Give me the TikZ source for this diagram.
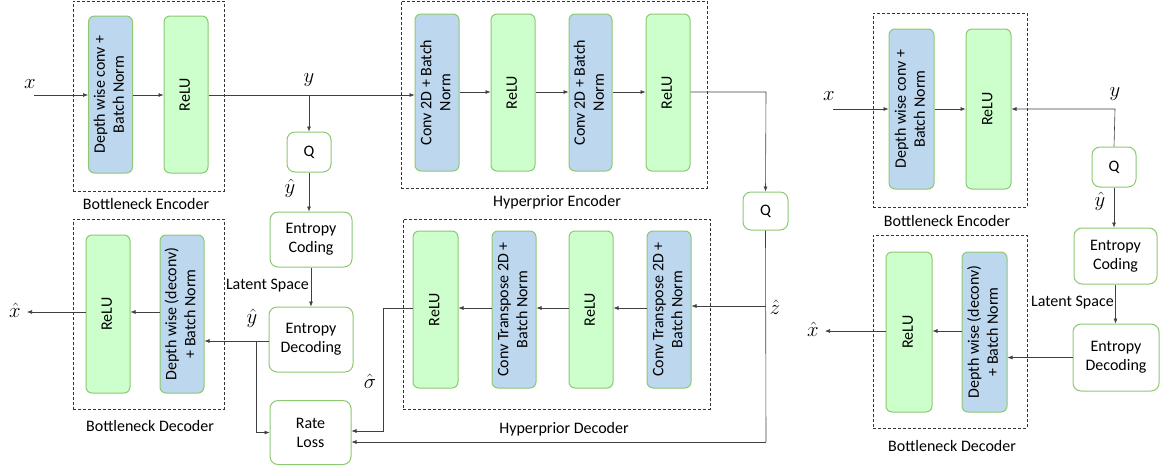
\documentclass[tikz,border=0pt]{standalone}
\usepackage{fontspec}
\setmainfont{Carlito}
\usepackage{graphicx}
\usetikzlibrary{arrows.meta}
\definecolor{bluef}{HTML}{BDD7EE}
\definecolor{greenf}{HTML}{CCFFCC}
\definecolor{gborder}{HTML}{8CC870}
\definecolor{lncol}{HTML}{404040}
\newcommand{\rtxt}[1]{\rotatebox{90}{\begin{tabular}{@{}c@{}}#1\end{tabular}}}
\tikzset{
  lay/.style={draw=gborder, line width=1pt, rounded corners=6pt, inner sep=0pt,
     font=\fontsize{16}{19}\selectfont, align=center},
  bluebox/.style={lay, fill=bluef, minimum width=44pt, minimum height=157pt},
  greenbox/.style={lay, fill=greenf, minimum width=44pt, minimum height=157pt},
  wbox/.style={lay, fill=white, rounded corners=8pt},
  dbox/.style={draw=black!80, densely dashed, line width=0.7pt, inner sep=0pt},
  lbl/.style={font=\fontsize{16}{19}\selectfont, inner sep=0pt},
  mlbl/.style={font=\fontsize{20}{22}\selectfont, inner sep=0pt},
  ln/.style={draw=lncol, line width=0.6pt},
  arr/.style={ln, -{Latex[length=5pt,width=4pt]}},
}
\begin{document}
\begin{tikzpicture}[x=1pt,y=-1pt]
\useasboundingbox (0,0) rectangle (1170,467);

% ---------- Left bottleneck encoder ----------
\node[dbox, minimum width=151pt, minimum height=190pt] (BE) at (148.5,96) {};
\node[bluebox] (be1) at (110.5,94.5) {\rtxt{Depth wise conv +\\Batch Norm}};
\node[greenbox] (be2) at (186,94.5) {\rtxt{ReLU}};
\node[lbl] (BElab) at (146,204) {Bottleneck Encoder};
\node[mlbl] (xl) at (30,84) {$x$};
\coordinate (xin) at (34,95);
\node[mlbl] (yl) at (309,80) {$y$};
\coordinate (ysplit) at (309,95);

% ---------- Q, entropy (left) ----------
\node[wbox, minimum width=44pt, minimum height=40pt] (Q1) at (309,152) {Q};
\node[mlbl] (yh1) at (290,188) {$\hat{y}$};
\node[wbox, minimum width=82pt, minimum height=55pt] (EC1) at (311,239.5) {Entropy\\Coding};
\node[lbl, anchor=east] (LS1) at (309,286) {Latent Space};
\node[wbox, minimum width=84pt, minimum height=65pt] (ED1) at (311,339.5) {Entropy\\Decoding};
\node[wbox, minimum width=81pt, minimum height=64pt] (RL) at (310.5,432.5) {Rate\\Loss};
\node[mlbl] (yh2) at (252,318) {$\hat{y}$};
\coordinate (ysp2) at (256,341);

% ---------- Left bottleneck decoder ----------
\node[dbox, minimum width=151pt, minimum height=190pt] (BD) at (148.5,314) {};
\node[greenbox, minimum height=158pt] (bd1) at (108,314) {\rtxt{ReLU}};
\node[bluebox, minimum height=158pt] (bd2) at (182,314) {\rtxt{Depth wise (deconv)\\+ Batch Norm}};
\node[lbl] (BDlab) at (150,426) {Bottleneck Decoder};
\coordinate (xout) at (27,312);
\node[mlbl] (xh1) at (15,310) {$\hat{x}$};

% ---------- Hyperprior encoder ----------
\node[dbox, minimum width=306pt, minimum height=187pt] (HE) at (554,94.5) {};
\node[bluebox] (he1) at (437,92.5) {\rtxt{Conv 2D + Batch\\Norm}};
\node[greenbox] (he2) at (513,92.5) {\rtxt{ReLU}};
\node[bluebox, minimum width=43pt] (he3) at (590.5,92.5) {\rtxt{Conv 2D + Batch\\Norm}};
\node[greenbox] (he4) at (668,92.5) {\rtxt{ReLU}};
\node[lbl] (HElab) at (557,202) {Hyperprior Encoder};
\coordinate (hc) at (766,92);
\node[wbox, minimum width=45pt, minimum height=38pt] (Q2) at (765.5,211) {Q};

% ---------- Hyperprior decoder ----------
\node[dbox, minimum width=307pt, minimum height=190pt] (HD) at (556.5,314) {};
\node[greenbox, minimum width=45pt] (hd1) at (435.5,309.5) {\rtxt{ReLU}};
\node[bluebox] (hd2) at (514,309.5) {\rtxt{Conv Transpose 2D +\\Batch Norm}};
\node[greenbox] (hd3) at (591,309.5) {\rtxt{ReLU}};
\node[bluebox] (hd4) at (669,309.5) {\rtxt{Conv Transpose 2D +\\Batch Norm}};
\node[lbl] (HDlab) at (564,429) {Hyperprior Decoder};
\coordinate (zsp) at (766,306);
\node[mlbl] (zl) at (775,307) {$\hat{z}$};
\coordinate (zc) at (766,442);
\coordinate (sc1) at (383,308);
\coordinate (sc2) at (383,431);
\node[mlbl] (sl) at (370,381) {$\hat{\sigma}$};

% ---------- Right bottleneck encoder ----------
\node[dbox, minimum width=154pt, minimum height=194pt] (RBE) at (950,110) {};
\node[bluebox, minimum width=45pt, minimum height=160pt] (rbe1) at (911.5,109) {\rtxt{Depth wise conv +\\Batch Norm}};
\node[greenbox, minimum width=45pt, minimum height=160pt] (rbe2) at (988.5,109) {\rtxt{ReLU}};
\node[lbl] (RBElab) at (947,221) {Bottleneck Encoder};
\node[mlbl] (rxl) at (829,96) {$x$};
\coordinate (rxin) at (833,109);
\node[mlbl] (ryl) at (1115,94) {$y$};
\coordinate (ryc) at (1115,109);
\node[wbox, minimum width=44pt, minimum height=40pt] (Q3) at (1114,167) {Q};
\node[mlbl] (ryh) at (1100,201) {$\hat{y}$};
\node[wbox, minimum width=83pt, minimum height=56pt] (REC) at (1115.5,256) {Entropy\\Coding};
\node[lbl, anchor=east] (LS2) at (1114,303) {Latent Space};
\node[wbox, minimum width=86pt, minimum height=67pt] (RED) at (1116,357.5) {Entropy\\Decoding};

% ---------- Right bottleneck decoder ----------
\node[dbox, minimum width=154pt, minimum height=193pt] (RBD) at (950,331.5) {};
\node[greenbox, minimum width=46pt, minimum height=160pt] (rbd1) at (909,332) {\rtxt{ReLU}};
\node[bluebox, minimum width=45pt, minimum height=160pt] (rbd2) at (984.5,332) {\rtxt{Depth wise (deconv)\\+ Batch Norm}};
\node[lbl] (RBDlab) at (952,446) {Bottleneck Decoder};
\coordinate (rxout) at (825,331);
\node[mlbl] (rxh) at (813,329) {$\hat{x}$};

% ---------- connectors left ----------
\draw[arr] (xin) -- (be1.west |- xin);
\draw[arr] (be1.east |- xin) -- (be2.west |- xin);
\draw[arr] (be2.east |- xin) -- (he1.west |- xin);
\draw[arr] (ysplit) -- (Q1.north);
\draw[arr] (Q1.south) -- (Q1.south |- EC1.north);
\draw[arr] (EC1.south) -- (ED1.north);
\draw[arr] (ED1.west |- ysp2) -- (bd2.east |- ysp2);
\draw[arr] (ysp2) |- (RL.west);
\draw[arr] (bd2.west |- xout) -- (bd1.east |- xout);
\draw[arr] (bd1.west |- xout) -- (xout);

% hyperprior encoder
\draw[arr] (he1.east |- hc) -- (he2.west |- hc);
\draw[arr] (he2.east |- hc) -- (he3.west |- hc);
\draw[arr] (he3.east |- hc) -- (he4.west |- hc);
\draw[arr] (he4.east |- hc) -- (hc) -- (Q2.north);

% hyperprior decoder
\draw[ln] (Q2.south) -- (zc);
\draw[arr] (zc) -- (RL.east |- zc);
\draw[arr] (zsp) -- (hd4.east |- zsp);
\draw[arr] (hd4.west |- sc1) -- (hd3.east |- sc1);
\draw[arr] (hd3.west |- sc1) -- (hd2.east |- sc1);
\draw[arr] (hd2.west |- sc1) -- (hd1.east |- sc1);
\draw[arr] (hd1.west |- sc1) -- (sc1) -- (sc2) -- (RL.east |- sc2);

% right part
\draw[arr] (rxin) -- (rbe1.west |- rxin);
\draw[arr] (rbe1.east |- rxin) -- (rbe2.west |- rxin);
\draw[arr] (Q3.north) -- (ryc) -- (rbe2.east |- ryc);
\draw[arr] (Q3.south) -- (Q3.south |- REC.north);
\draw[arr] (REC.south) -- (REC.south |- RED.north);
\draw[arr] (RED.west) -- (rbd2.east |- RED.west);
\draw[arr] (rbd2.west |- rxout) -- (rbd1.east |- rxout);
\draw[arr] (rbd1.west |- rxout) -- (rxout);
\end{tikzpicture}
\end{document}
